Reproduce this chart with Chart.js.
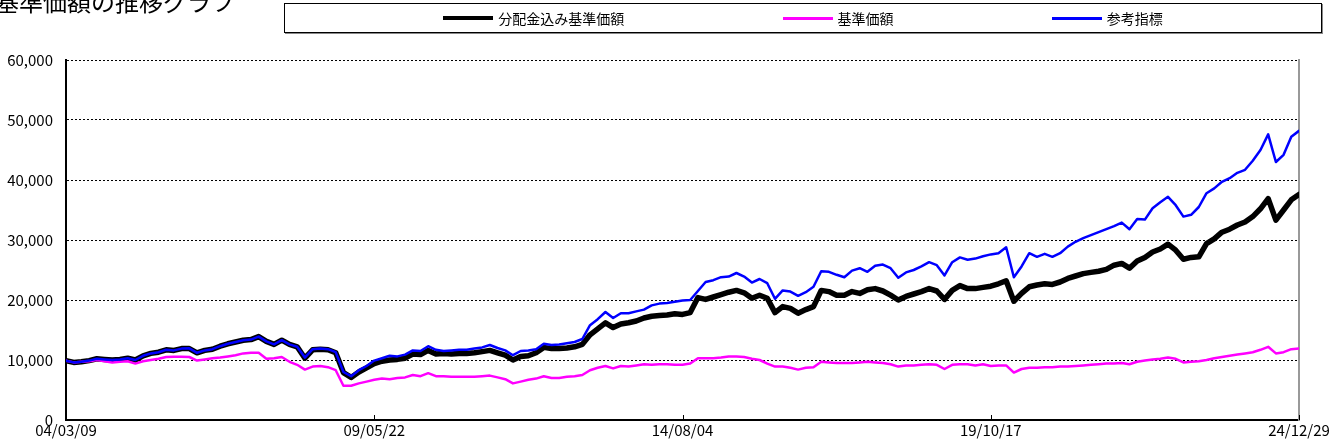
<!DOCTYPE html>
<html><head><meta charset="utf-8">
<script src="https://cdn.jsdelivr.net/npm/chart.js@4"></script>
<style>
html,body{margin:0;padding:0;background:#fff;overflow:hidden;}
#wrap{position:relative;width:1335px;height:448px;overflow:hidden;}
#c{position:absolute;left:0;top:0;}
#title{position:absolute;left:-5px;top:-11px;font:24px/24px "Noto Sans CJK JP";white-space:nowrap;color:#000;}
#legend{position:absolute;left:284px;top:3px;width:1036px;height:28px;border:1px solid #000;box-shadow:1px 1px 0 #888;display:flex;justify-content:space-evenly;align-items:center;font:14px/16px "Noto Sans CJK JP";color:#000;background:#fff;}
.item{display:flex;align-items:center;}
.sw{width:50px;margin-right:5px;}
</style>
</head><body>
<div id="wrap">
<canvas id="c" width="1335" height="448"></canvas>
<div id="title">基準価額の推移グラフ</div>
<div id="legend"></div>
</div>
<script>
const xLabels = ['04/03/09','09/05/22','14/08/04','19/10/17','24/12/29'];
const tickIdx = [0,40,80,120,160];
const seriesNames = ['分配金込み基準価額','基準価額','参考指標'];

const navWithDist = [
9900,9600,9700,9900,10200,10100,10000,10100,10300,10000,
10700,11100,11300,11700,11600,11900,11900,11200,11600,11800,
12300,12700,13000,13300,13400,13900,13100,12600,13300,12600,
12200,10300,11700,11800,11700,11200,7900,7100,8000,8700,
9400,9800,10000,10100,10300,11000,10900,11600,11000,11100,
11000,11100,11100,11200,11400,11600,11200,10800,10000,10600,
10700,11200,12100,11900,11900,12000,12200,12600,14200,15200,
16200,15400,16000,16200,16500,17000,17300,17400,17500,17700,
17600,17900,20400,20100,20500,20900,21300,21600,21200,20300,
20800,20300,17900,18900,18600,17800,18400,18900,21600,21400,
20800,20800,21400,21100,21700,21900,21500,20800,20000,20600,
21000,21400,21900,21500,20100,21600,22400,21900,21900,22100,
22300,22700,23200,19800,21100,22200,22500,22700,22600,23000,
23600,24000,24400,24600,24800,25100,25800,26100,25300,26500,
27100,28000,28500,29300,28300,26800,27100,27200,29400,30200,
31300,31800,32500,33000,33900,35200,36900,33300,35000,36700,
37600];

const nav = [
9900,9600,9700,9800,10000,9800,9600,9700,9800,9400,
9800,10000,10200,10500,10550,10550,10500,9900,10100,10300,
10400,10600,10800,11100,11200,11200,10200,10300,10500,9700,
9200,8400,8900,9000,8800,8300,5700,5700,6100,6400,
6700,6900,6800,7000,7100,7500,7300,7800,7300,7300,
7200,7200,7200,7200,7300,7400,7100,6800,6100,6400,
6700,6900,7300,7000,7000,7200,7300,7500,8300,8700,
9000,8600,9000,8900,9100,9300,9200,9300,9300,9200,
9200,9400,10300,10300,10300,10400,10600,10600,10500,10200,
10000,9400,8900,8900,8700,8400,8700,8800,9700,9600,
9500,9500,9500,9600,9700,9600,9500,9300,8900,9100,
9100,9200,9300,9200,8500,9200,9300,9300,9100,9300,
9000,9100,9100,7900,8500,8700,8700,8800,8800,8900,
8900,9000,9100,9200,9300,9400,9400,9500,9300,9700,
9900,10100,10200,10400,10200,9600,9700,9800,10000,10300,
10500,10700,10900,11100,11300,11700,12200,11100,11300,11800,
11900];

const benchmark = [
9900,9600,9700,9900,10200,10100,10000,10100,10300,10000,
10700,11100,11300,11700,11600,11900,11950,11200,11600,11800,
12300,12700,13000,13300,13400,13900,13100,12600,13300,12600,
12200,10400,11800,11900,11800,11300,8000,7300,8300,9000,
9900,10300,10700,10600,10900,11600,11500,12300,11700,11500,
11600,11700,11700,11900,12100,12500,12000,11600,10800,11500,
11600,11800,12700,12500,12600,12800,13000,13500,15800,16800,
18000,17000,17800,17800,18100,18400,19100,19400,19500,19700,
19900,20000,21500,23000,23300,23800,23900,24500,23900,22900,
23500,22800,20200,21600,21400,20700,21300,22200,24800,24700,
24200,23800,24900,25300,24700,25700,25900,25300,23700,24600,
25000,25600,26300,25800,24100,26300,27100,26700,26900,27300,
27600,27800,28800,23800,25600,27800,27200,27700,27200,27800,
28900,29700,30300,30800,31300,31800,32300,32900,31800,33500,
33400,35300,36300,37200,35800,33900,34200,35500,37800,38600,
39700,40300,41200,41700,43200,45000,47600,43000,44200,47200,
48200];

const colors = ['#000000','#FF00FF','#0000FF'];
const widths = [5.5,2.5,2.5];
const orders = [2,1,0];
const allSeries = [navWithDist, nav, benchmark];

// HTML legend
const lg = document.getElementById('legend');
seriesNames.forEach((n,i)=>{
  const it=document.createElement('div'); it.className='item';
  const sw=document.createElement('div'); sw.className='sw';
  sw.style.borderTop = (i===0?4:3)+'px solid '+colors[i];
  const tx=document.createElement('span'); tx.textContent=n;
  it.appendChild(sw); it.appendChild(tx); lg.appendChild(it);
});

const innerTicks = {
  id:'innerTicks',
  afterDraw(chart){
    const x=chart.scales.x, a=chart.chartArea, ctx=chart.ctx;
    ctx.save(); ctx.strokeStyle='#000'; ctx.lineWidth=1;
    x.ticks.forEach(t=>{
      const px=Math.round(x.getPixelForValue(t.value))+0.5;
      ctx.beginPath(); ctx.moveTo(px,a.bottom); ctx.lineTo(px,a.bottom-5); ctx.stroke();
    });
    ctx.restore();
  }
};

const axisFont = {family:'"Noto Sans CJK JP", sans-serif', size:15};

new Chart(document.getElementById('c'), {
  type:'line',
  data:{
    datasets: allSeries.map((s,i)=>({
      label: seriesNames[i],
      data: s.map((v,k)=>({x:k,y:v})),
      borderColor: colors[i],
      backgroundColor: colors[i],
      borderWidth: widths[i],
      pointRadius: 0,
      tension: 0,
      fill:false,
      order: orders[i],
      borderJoinStyle:'round',
      borderCapStyle:'round'
    }))
  },
  options:{
    responsive:false,
    devicePixelRatio:1,
    animation:false,
    layout:{padding:{left:0,right:36,top:60,bottom:0}},
    plugins:{legend:{display:false},tooltip:{enabled:false},title:{display:false}},
    scales:{
      x:{
        type:'linear', min:0, max:160,
        afterBuildTicks(s){ s.ticks = tickIdx.map(v=>({value:v})); },
        afterFit(s){ s.height=28; s.paddingLeft=0; s.paddingRight=0; },
        ticks:{autoSkip:false, maxRotation:0, minRotation:0, padding:1, color:'#000', font:axisFont,
          callback:(v)=>xLabels[tickIdx.indexOf(v)]},
        grid:{display:false, drawTicks:false},
        border:{display:true,color:'#000',width:2}
      },
      y:{
        type:'linear', min:0, max:60000,
        afterFit(s){ s.width=66; },
        ticks:{stepSize:10000, padding:13, color:'#000', font:axisFont,
          callback:(v)=>v.toLocaleString('en-US')},
        grid:{color:'#000', lineWidth:1, drawTicks:false},
        border:{display:true,color:'#000',width:2,dash:[2,2]}
      },
      y2:{
        type:'linear', position:'right', min:0, max:1,
        afterFit(s){ s.width=0; },
        ticks:{display:false},
        grid:{display:false, drawTicks:false},
        border:{display:true,color:'#999',width:2}
      }
    }
  },
  plugins:[innerTicks]
});
</script>
</body></html>
